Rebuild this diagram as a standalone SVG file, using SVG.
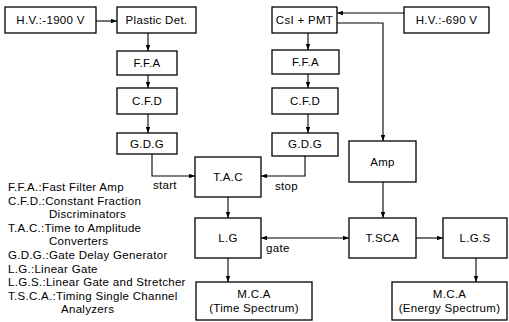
<svg xmlns="http://www.w3.org/2000/svg" width="509" height="322" viewBox="0 0 509 322">
<defs>
<marker id="ah" viewBox="0 0 8 6" refX="8" refY="3" markerWidth="6" markerHeight="4.5" orient="auto-start-reverse" markerUnits="userSpaceOnUse">
<path d="M0,0 L8,3 L0,6 z" fill="#000"/>
</marker>
</defs>
<style>
rect{fill:#fff;stroke:#000;stroke-width:1.3}
text{font-family:"Liberation Sans",Arial,sans-serif;font-size:11.5px;fill:#000;letter-spacing:0.3px}
.c{text-anchor:middle}
#connectors path,#connectors line{fill:none;stroke:#000;stroke-width:1.1}
</style>
<rect width="509" height="322" style="fill:#fff;stroke:none"/>
<g id="connectors">
<line x1="96" y1="21" x2="117" y2="21" marker-end="url(#ah)"/>
<line x1="148" y1="33" x2="148" y2="51" marker-end="url(#ah)"/>
<line x1="148" y1="75" x2="148" y2="88" marker-end="url(#ah)"/>
<line x1="148" y1="114" x2="148" y2="133" marker-end="url(#ah)"/>
<path d="M152,154 V176 H195" marker-end="url(#ah)"/>
<line x1="404" y1="13" x2="337" y2="13" marker-end="url(#ah)"/>
<path d="M337,23 H383 V141" marker-end="url(#ah)"/>
<line x1="308" y1="33" x2="308" y2="50" marker-end="url(#ah)"/>
<line x1="308" y1="74" x2="308" y2="88" marker-end="url(#ah)"/>
<line x1="308" y1="114" x2="308" y2="133" marker-end="url(#ah)"/>
<path d="M305,156 V176 H261" marker-end="url(#ah)"/>
<line x1="228" y1="197" x2="228" y2="218" marker-end="url(#ah)"/>
<line x1="383" y1="182" x2="383" y2="218" marker-end="url(#ah)"/>
<line x1="261" y1="238" x2="349" y2="238" marker-start="url(#ah)" marker-end="url(#ah)"/>
<line x1="416" y1="238" x2="443" y2="238" marker-end="url(#ah)"/>
<line x1="228" y1="258" x2="228" y2="282" marker-end="url(#ah)"/>
<line x1="476" y1="258" x2="476" y2="282" marker-end="url(#ah)"/>
<text x="153" y="189">start</text>
<text x="275" y="190">stop</text>
<text x="266" y="252">gate</text>
</g>
<g id="hv1900"><rect x="5" y="7" width="91" height="26"/><text class="c" x="50.5" y="24">H.V.:-1900 V</text></g>
<g id="plastic"><rect x="117" y="7" width="79" height="26"/><text class="c" x="156.5" y="24">Plastic Det.</text></g>
<g id="ffa1"><rect x="117" y="51" width="60" height="24"/><text class="c" x="147" y="67">F.F.A</text></g>
<g id="cfd1"><rect x="117" y="88" width="60" height="26"/><text class="c" x="147" y="105">C.F.D</text></g>
<g id="gdg1"><rect x="117" y="133" width="60" height="21"/><text class="c" x="147" y="148">G.D.G</text></g>
<g id="csi"><rect x="272" y="7" width="65" height="26"/><text class="c" x="304.5" y="24">CsI + PMT</text></g>
<g id="hv690"><rect x="404" y="7" width="85" height="26"/><text class="c" x="446.5" y="24">H.V.:-690 V</text></g>
<g id="ffa2"><rect x="272" y="50" width="67" height="24"/><text class="c" x="305.5" y="66">F.F.A</text></g>
<g id="cfd2"><rect x="272" y="88" width="66" height="26"/><text class="c" x="305" y="105">C.F.D</text></g>
<g id="gdg2"><rect x="272" y="133" width="66" height="23"/><text class="c" x="305" y="148">G.D.G</text></g>
<g id="tac"><rect x="195" y="157" width="66" height="40"/><text class="c" x="228" y="181">T.A.C</text></g>
<g id="amp"><rect x="349" y="141" width="67" height="41"/><text class="c" x="382.5" y="166">Amp</text></g>
<g id="lg"><rect x="195" y="218" width="66" height="40"/><text class="c" x="228" y="242">L.G</text></g>
<g id="tsca"><rect x="349" y="218" width="67" height="40"/><text class="c" x="382.5" y="242">T.SCA</text></g>
<g id="lgs"><rect x="443" y="218" width="64" height="40"/><text class="c" x="475" y="242">L.G.S</text></g>
<g id="mca1"><rect x="196" y="282" width="116" height="38"/><text class="c" x="254" y="298">M.C.A</text><text class="c" x="254" y="312">(Time Spectrum)</text></g>
<g id="mca2"><rect x="392" y="282" width="115" height="38"/><text class="c" x="449.5" y="298">M.C.A</text><text class="c" x="449.5" y="312">(Energy Spectrum)</text></g>
<g id="legend">
<text x="8" y="191">F.F.A.:Fast Filter Amp</text>
<text x="8" y="204.6">C.F.D.:Constant Fraction</text>
<text x="49" y="218.2">Discriminators</text>
<text x="8" y="231.8">T.A.C.:Time to Amplitude</text>
<text x="49" y="245.4">Converters</text>
<text x="8" y="259">G.D.G.:Gate Delay Generator</text>
<text x="8" y="272.6">L.G.:Linear Gate</text>
<text x="8" y="286.2">L.G.S.:Linear Gate and Stretcher</text>
<text x="8" y="299.8">T.S.C.A.:Timing Single Channel</text>
<text x="61" y="313.4">Analyzers</text>
</g>
</svg>
